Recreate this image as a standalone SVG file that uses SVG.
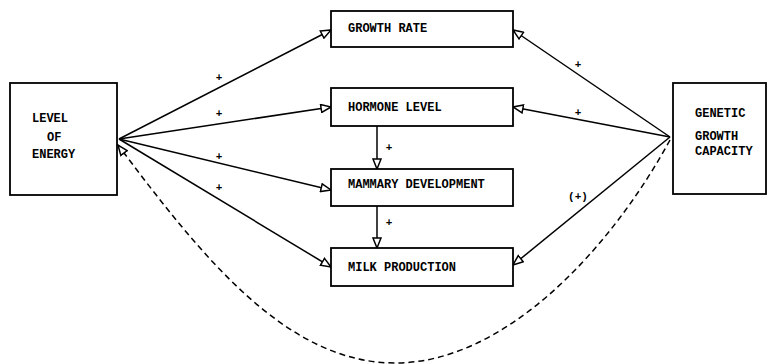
<svg xmlns="http://www.w3.org/2000/svg" width="767" height="364" viewBox="0 0 767 364">
<style>
.box{fill:#fff;stroke:#000;stroke-width:1.8}
.t{font-family:"Liberation Mono","DejaVu Sans Mono",monospace;font-weight:bold;font-size:12px;fill:#000}
.s{font-family:"Liberation Mono","DejaVu Sans Mono",monospace;font-weight:bold;font-size:11px;fill:#000;text-anchor:middle}
.ln{fill:none;stroke:#000;stroke-width:1.5;marker-end:url(#ah)}
.dash{fill:none;stroke:#000;stroke-width:1.5;stroke-dasharray:6 4;marker-end:url(#ah)}
</style>
<defs>
<marker id="ah" viewBox="0 0 12 10" refX="11" refY="5" markerWidth="12" markerHeight="10" markerUnits="userSpaceOnUse" orient="auto">
<path d="M1,1 L11,5 L1,9 Z" fill="#fff" stroke="#000" stroke-width="1.5"/>
</marker>
</defs>
<rect width="767" height="364" fill="#fff"/>
<g id="connectors">
<line class="ln" x1="119" y1="139" x2="331" y2="30"/>
<line class="ln" x1="119" y1="139" x2="331" y2="107"/>
<line class="ln" x1="119" y1="139" x2="331" y2="190"/>
<line class="ln" x1="119" y1="139" x2="331" y2="267"/>
<line class="ln" x1="670" y1="137" x2="513" y2="30"/>
<line class="ln" x1="670" y1="137" x2="513" y2="107"/>
<line class="ln" x1="670" y1="137" x2="513" y2="265"/>
<line class="ln" x1="377" y1="126" x2="377" y2="169"/>
<line class="ln" x1="377" y1="206" x2="377" y2="248"/>
<path class="dash" d="M670,140 C610,250 505,363 395,363 C285,363 200,254 118,145"/>
<text class="s" x="219" y="81">+</text>
<text class="s" x="219" y="117">+</text>
<text class="s" x="219" y="160">+</text>
<text class="s" x="219" y="191">+</text>
<text class="s" x="578" y="68">+</text>
<text class="s" x="578" y="116">+</text>
<text class="s" x="389" y="151">+</text>
<text class="s" x="389" y="226">+</text>
<text class="s" x="578" y="200">(+)</text>
</g>
<g id="level-of-energy">
<rect class="box" x="10" y="83" width="107" height="112"/>
<text class="t" x="32" y="122">LEVEL</text>
<text class="t" x="47" y="141">OF</text>
<text class="t" x="32" y="158">ENERGY</text>
</g>
<g id="genetic-growth-capacity">
<rect class="box" x="673" y="83" width="93" height="111"/>
<text class="t" x="695" y="117">GENETIC</text>
<text class="t" x="695" y="140">GROWTH</text>
<text class="t" x="695" y="155">CAPACITY</text>
</g>
<g id="growth-rate">
<rect class="box" x="331" y="11" width="182" height="36"/>
<text class="t" x="348" y="32">GROWTH RATE</text>
</g>
<g id="hormone-level">
<rect class="box" x="331" y="88" width="182" height="38"/>
<text class="t" x="348" y="111">HORMONE LEVEL</text>
</g>
<g id="mammary-development">
<rect class="box" x="331" y="169" width="182" height="37"/>
<text class="t" x="348" y="188">MAMMARY DEVELOPMENT</text>
</g>
<g id="milk-production">
<rect class="box" x="331" y="248" width="182" height="38"/>
<text class="t" x="348" y="271">MILK PRODUCTION</text>
</g>
</svg>
